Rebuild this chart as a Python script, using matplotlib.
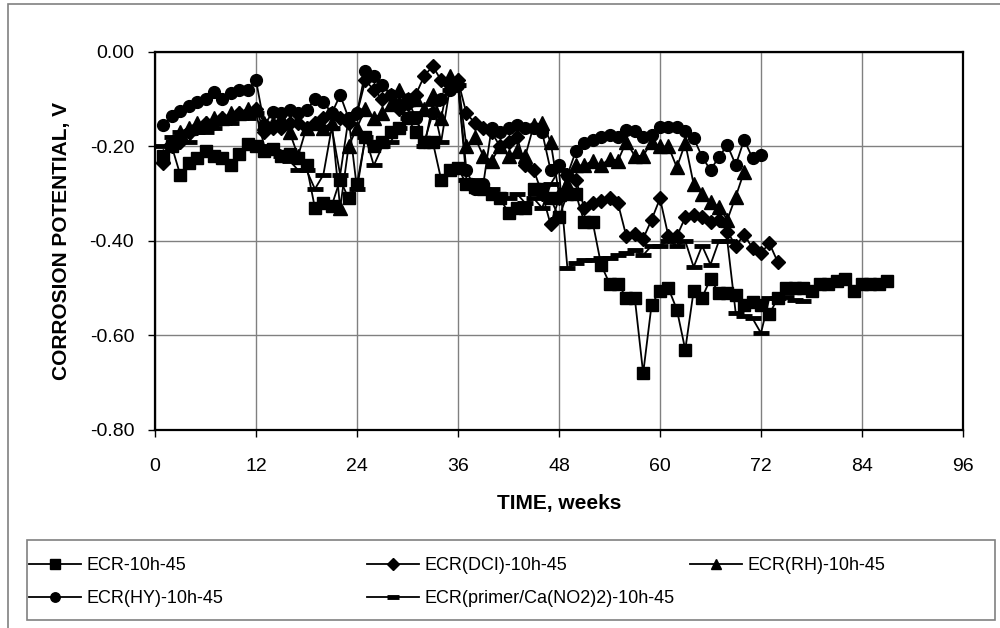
import matplotlib
matplotlib.use("Agg")
import matplotlib.pyplot as plt
from matplotlib.patches import Rectangle
from matplotlib.ticker import FormatStrFormatter

plt.rcParams['font.family'] = ['Liberation Sans', 'DejaVu Sans']
plt.rcParams['axes.unicode_minus'] = False

# === Data ===
ecr = [-0.22, -0.20, -0.26, -0.235, -0.225, -0.21, -0.22, -0.225, -0.24, -0.215,
       -0.195, -0.20, -0.21, -0.205, -0.22, -0.215, -0.225, -0.24, -0.33, -0.32,
       -0.325, -0.27, -0.31, -0.28, -0.18, -0.20, -0.19, -0.17, -0.16, -0.14,
       -0.17, -0.19, -0.19, -0.27, -0.25, -0.245, -0.28, -0.285, -0.29, -0.30,
       -0.31, -0.34, -0.33, -0.33, -0.29, -0.29, -0.31, -0.35, -0.30, -0.30,
       -0.36, -0.36, -0.45, -0.49, -0.49, -0.52, -0.52, -0.68, -0.535, -0.505,
       -0.50, -0.545, -0.63, -0.505, -0.52, -0.48, -0.51, -0.51, -0.515, -0.535,
       -0.53, -0.535, -0.555, -0.52, -0.50, -0.50, -0.50, -0.505, -0.49, -0.49,
       -0.485, -0.48, -0.505, -0.49, -0.49, -0.49, -0.485]

dci = [-0.235, -0.20, -0.19, -0.17, -0.16, -0.15, -0.15, -0.14, -0.14, -0.13,
       -0.13, -0.12, -0.17, -0.16, -0.16, -0.15, -0.15, -0.16, -0.15, -0.14,
       -0.13, -0.14, -0.15, -0.13, -0.06, -0.08, -0.10, -0.09, -0.12, -0.11,
       -0.09, -0.05, -0.03, -0.06, -0.07, -0.06, -0.13, -0.15, -0.16, -0.17,
       -0.20, -0.19, -0.18, -0.24, -0.25, -0.30, -0.365, -0.31, -0.26, -0.27,
       -0.33, -0.32, -0.315, -0.31, -0.32, -0.39, -0.385, -0.395, -0.355, -0.31,
       -0.39, -0.39, -0.35, -0.345, -0.35, -0.36, -0.355, -0.38, -0.41, -0.387,
       -0.415, -0.425, -0.405, -0.445]

rh = [-0.22, -0.19, -0.17, -0.16, -0.15, -0.15, -0.14, -0.14, -0.13, -0.13,
      -0.12, -0.12, -0.15, -0.15, -0.14, -0.17, -0.22, -0.16, -0.15, -0.16,
      -0.15, -0.33, -0.20, -0.16, -0.12, -0.14, -0.13, -0.11, -0.08, -0.10,
      -0.10, -0.12, -0.09, -0.14, -0.05, -0.06, -0.20, -0.18, -0.22, -0.23,
      -0.20, -0.22, -0.21, -0.22, -0.155, -0.15, -0.19, -0.30, -0.28, -0.24,
      -0.24, -0.23, -0.24, -0.226, -0.23, -0.19, -0.22, -0.22, -0.19, -0.20,
      -0.20, -0.244, -0.193, -0.28, -0.30, -0.317, -0.328, -0.355, -0.306, -0.253]

hy = [-0.155, -0.135, -0.125, -0.115, -0.105, -0.10, -0.085, -0.10, -0.087, -0.08,
      -0.08, -0.06, -0.155, -0.126, -0.13, -0.123, -0.13, -0.123, -0.10, -0.105,
      -0.13, -0.091, -0.14, -0.13, -0.04, -0.05, -0.07, -0.09, -0.11, -0.10,
      -0.14, -0.19, -0.13, -0.10, -0.08, -0.07, -0.25, -0.29, -0.28, -0.16,
      -0.17, -0.16, -0.155, -0.16, -0.16, -0.17, -0.25, -0.24, -0.26, -0.21,
      -0.193, -0.186, -0.179, -0.176, -0.179, -0.165, -0.168, -0.18, -0.176, -0.158,
      -0.158, -0.158, -0.168, -0.182, -0.222, -0.25, -0.222, -0.197, -0.239, -0.186,
      -0.225, -0.218]

primer = [-0.20, -0.18, -0.17, -0.19, -0.17, -0.17, -0.16, -0.15, -0.15, -0.14,
          -0.14, -0.13, -0.20, -0.21, -0.22, -0.23, -0.25, -0.25, -0.29, -0.26,
          -0.16, -0.26, -0.14, -0.29, -0.18, -0.24, -0.20, -0.19, -0.16, -0.14,
          -0.13, -0.20, -0.11, -0.19, -0.08, -0.07, -0.27, -0.27, -0.29, -0.29,
          -0.30, -0.31, -0.30, -0.32, -0.31, -0.33, -0.28, -0.25, -0.458, -0.447,
          -0.44, -0.44, -0.435, -0.435, -0.43, -0.425, -0.42, -0.43, -0.41, -0.41,
          -0.40, -0.41, -0.40, -0.455, -0.41, -0.45, -0.40, -0.40, -0.553, -0.559,
          -0.564, -0.595, -0.52, -0.52, -0.518, -0.525, -0.528]

series = [
    ("ECR-10h-45", ecr, 's', 8.5, 1),
    ("ECR(DCI)-10h-45", dci, 'D', 7.5, 1),
    ("ECR(RH)-10h-45", rh, '^', 9.5, 1),
    ("ECR(HY)-10h-45", hy, 'o', 8.5, 1),
    ("ECR(primer/Ca(NO2)2)-10h-45", primer, '_', 11, 3.5),
]

# === Figure ===
fig = plt.figure(figsize=(10, 6.28), dpi=100)
ax = fig.add_axes([0.155, 0.3153, 0.808, 0.6019])

handles = {}
for name, vals, mk, ms, mew in series:
    weeks = list(range(1, len(vals) + 1))
    ln, = ax.plot(weeks, vals, color='black', linewidth=1.3, marker=mk,
                  markersize=ms, markeredgewidth=mew, markerfacecolor='black',
                  markeredgecolor='black', label=name, zorder=3)
    handles[name] = ln

ax.set_xlim(0, 96)
ax.set_ylim(-0.8, 0.0)
ax.set_xticks(range(0, 97, 12))
ax.set_yticks([-0.8, -0.6, -0.4, -0.2, 0.0])
ax.yaxis.set_major_formatter(FormatStrFormatter('%.2f'))
ax.grid(True, color='#808080', linewidth=1.0)
ax.set_axisbelow(True)
for sp in ax.spines.values():
    sp.set_linewidth(1.6)
    sp.set_color('black')
ax.tick_params(direction='out', length=5, width=1, labelsize=14)
ax.tick_params(axis='x', pad=15)
ax.tick_params(axis='y', pad=10)

ax.set_xlabel("TIME, weeks", fontsize=15, fontweight='bold', labelpad=14)
ax.set_ylabel("CORROSION POTENTIAL, V", fontsize=15, fontweight='bold', labelpad=13)

# outer chart border (runs off the right and bottom edges)
fig.patches.append(Rectangle((0.008, -0.05), 1.2, 1.044, transform=fig.transFigure,
                             fill=False, edgecolor='#808080', linewidth=1.2))

# legend box
fig.patches.append(Rectangle((0.027, 1 - 620 / 628), 0.968, 80 / 628,
                             transform=fig.transFigure, fill=False,
                             edgecolor='#808080', linewidth=1.2))

columns = [
    (0.029, ["ECR-10h-45", "ECR(HY)-10h-45"]),
    (0.367, ["ECR(DCI)-10h-45", "ECR(primer/Ca(NO2)2)-10h-45"]),
    (0.690, ["ECR(RH)-10h-45"]),
]
for x0, names in columns:
    fig.legend(handles=[handles[n] for n in names], loc='upper left',
               bbox_to_anchor=(x0, 1 - 557 / 628), frameon=False, fontsize=13,
               handlelength=2.9, handletextpad=0.3, labelspacing=0.9,
               borderaxespad=0, borderpad=0.0, markerscale=0.8)

fig.savefig("out.png", dpi=100)
